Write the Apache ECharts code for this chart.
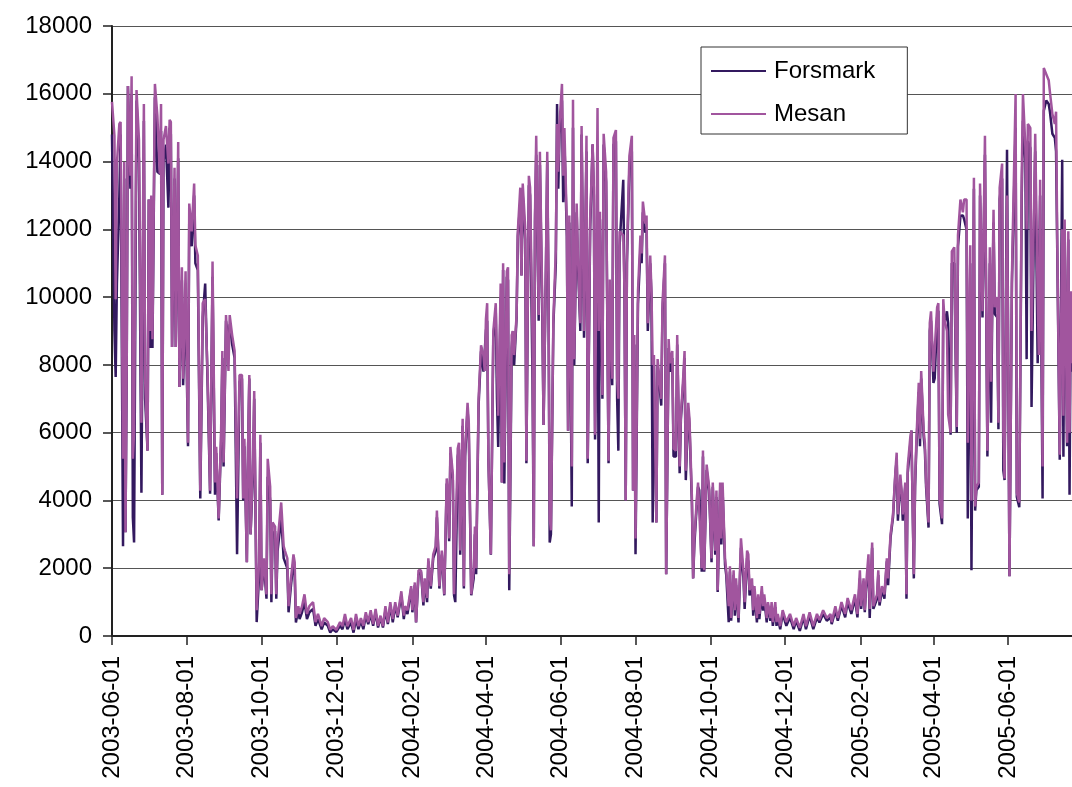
<!DOCTYPE html>
<html>
<head>
<meta charset="utf-8">
<script src="https://cdn.jsdelivr.net/npm/echarts@6/dist/echarts.min.js"></script>
<style>
  html, body { margin: 0; padding: 0; background: #fff; }
  #chart { width: 1072px; height: 787px; }
</style>
</head>
<body>
<div id="chart"></div>
<script>
// first day of the series, day offsets below count from here
const startDate = "2003-06-01";
const dayCount = 784;

const tickLabels = [
  "2003-06-01", "2003-08-01", "2003-10-01", "2003-12-01", "2004-02-01",
  "2004-04-01", "2004-06-01", "2004-08-01", "2004-10-01", "2004-12-01",
  "2005-02-01", "2005-04-01", "2005-06-01"
];

// day offsets of the read-off points
const sampleDays = [
  0,2,3,4,6,7,9,10,11,12,
  13,15,16,17,18,20,22,24,26,27,
  29,30,31,32,33,35,37,39,40,41,
  42,44,46,47,48,49,51,52,54,55,
  57,58,60,62,63,65,67,68,70,72,
  74,76,78,80,82,84,85,87,89,90,
  91,93,95,96,98,100,102,104,106,107,
  108,110,111,112,113,115,116,117,118,120,
  121,122,124,126,127,129,130,131,133,134,
  135,138,140,141,143,144,146,148,149,150,
  152,153,155,157,159,161,164,166,168,171,
  173,176,178,180,183,186,188,190,192,195,
  197,199,201,203,205,207,209,211,213,215,
  217,219,221,223,225,227,229,231,233,236,
  238,239,241,244,245,247,248,250,252,254,
  255,257,258,260,262,264,265,266,267,269,
  270,271,273,274,275,276,278,279,280,282,
  283,284,286,287,288,290,291,293,295,296,
  297,299,301,303,304,305,306,307,309,311,
  313,314,315,317,318,319,320,322,323,324,
  326,327,328,330,331,333,334,335,337,338,
  340,341,343,344,345,346,348,349,351,352,
  354,355,356,357,358,360,362,363,364,365,
  367,368,369,371,372,373,375,376,377,379,
  380,382,383,385,386,387,388,390,392,393,
  394,396,397,398,400,401,403,405,406,408,
  409,411,412,413,414,417,418,419,420,422,
  424,425,426,427,429,431,432,433,435,436,
  437,439,440,441,442,444,445,448,449,451,
  452,454,455,457,458,460,461,463,464,466,
  467,468,470,471,473,474,475,477,478,479,
  481,482,483,485,487,489,490,492,493,494,
  496,497,498,500,501,503,504,505,507,508,
  509,511,512,513,515,516,518,519,520,522,
  523,524,526,527,528,530,531,532,534,535,
  537,538,539,541,542,543,545,547,550,553,
  556,558,561,564,566,569,572,575,577,580,
  583,586,587,590,592,595,598,600,603,606,
  608,610,611,613,614,615,617,618,620,621,
  624,625,626,628,630,632,633,635,637,639,
  640,641,643,644,645,647,648,649,651,652,
  654,655,656,658,659,660,662,663,664,666,
  667,668,670,671,673,674,675,677,678,679,
  681,682,684,685,687,689,690,692,694,695,
  697,698,700,701,703,704,705,707,708,710,
  712,714,716,717,718,719,720,722,723,724,
  726,727,728,730,731,732,734,737,738,740,
  742,743,745,746,747,749,750,752,753,755,
  756,757,759,760,762,764,765,767,769,770,
  771,773,775,776,777,779,780,781,782,783
];

const forsmark = [
  14800,9000,7640,10400,13000,14800,2650,13500,3060,7800,
  16230,13200,16000,3500,2760,15800,14000,4230,15200,7000,
  5470,12880,8500,12000,8500,15900,13700,13640,14900,4170,
  14000,14500,12640,15000,14800,8530,13500,8530,14100,7350,
  10500,7400,10000,5600,12300,11500,13000,11000,10800,4060,
  9400,10400,7400,4200,10600,4170,5400,3410,5800,8200,
  5000,9300,8700,9200,8600,8200,2410,7500,7600,4000,
  5600,2180,5500,7600,3000,4800,7000,3800,410,1800,
  5700,1350,2100,1100,4700,4000,1000,3000,3100,1100,
  2500,3500,2300,2300,2000,700,1500,2200,1800,400,
  800,500,700,1000,500,700,800,300,500,200,
  400,300,100,200,120,300,200,500,200,400,
  100,500,200,450,200,600,350,650,300,700,
  250,550,250,750,350,900,400,900,550,1200,
  500,800,650,1400,700,1500,400,1800,1900,900,
  1600,1000,2200,1400,2300,2500,3500,2600,1400,2400,
  1900,1200,4500,4200,2800,5400,4600,1200,1000,5300,
  5500,2400,6200,1400,5300,6700,6000,1200,1700,3000,
  1820,6800,8400,7800,7800,9000,9300,5230,2400,8800,
  9600,7000,5580,10000,4530,10800,4500,10600,10500,1350,
  8500,9000,8000,9400,11800,12800,10640,13000,11700,5100,
  13300,13000,7500,2650,12200,14200,9300,13900,9300,6230,
  11000,14000,10200,2760,3000,9200,11000,15700,13200,14800,
  15800,12800,14600,11800,6060,12200,3820,15000,8000,12500,
  11000,9000,14800,8800,11500,14300,5100,12000,14500,13000,
  5800,12000,3350,12300,7000,14500,13400,5100,9000,7400,
  14500,14600,7000,5470,11500,13460,10000,4000,11000,13800,
  14300,4290,8600,2410,9800,11400,11000,12500,11900,12000,
  9000,11000,10000,3350,8000,3350,8000,6800,9600,11000,
  1820,8500,7800,8200,5300,5300,8600,4800,6400,7500,
  8200,4600,6700,6200,3900,1700,2700,3900,4400,4300,
  1900,5300,1900,4900,4300,2180,4400,2400,4100,1300,
  4300,2700,4300,2100,1800,410,1900,450,1800,600,
  1500,400,1500,2600,1700,800,2300,2200,1200,1500,
  600,1300,400,1100,500,1300,750,1100,400,900,
  450,850,300,850,300,550,200,650,300,550,
  200,450,150,550,200,600,200,550,400,650,
  450,550,350,750,450,900,550,1000,650,1100,
  550,1700,800,1600,700,1400,2000,530,2600,800,
  1100,1800,900,1350,1100,2200,1500,2900,3500,4800,
  5200,3400,4600,4200,3400,4400,1100,4800,5600,6060,
  1700,4400,5500,7200,5600,7600,5900,5500,4400,3200,
  9000,9300,7470,7600,9400,9600,3900,3300,9700,9200,
  9580,9230,5940,11000,11000,6000,11500,12400,12410,12300,
  12000,3470,11000,1940,13200,3700,4300,4400,13000,9400,
  14200,5300,11000,6290,9800,12200,9500,9410,6100,12900,
  13500,4880,4600,14350,8000,1760,10400,15000,4100,3800,
  13000,15200,14000,8170,14600,14400,6760,12200,14300,8050,
  8000,13000,4060,15500,15800,15700,15470,14820,14700,14300,
  11300,5200,14050,5290,12000,5600,11700,4170,10000,7800
];

const mesan = [
  15760,14760,9940,13940,15110,15170,5230,13990,3060,8170,
  16230,13580,16520,5230,6000,16110,14640,6290,15700,7590,
  5470,12880,9000,13000,8760,16290,15350,13640,15700,4170,
  14640,15050,13940,15230,15170,8530,13820,8530,14580,7350,
  10880,7590,10760,5700,12760,11940,13350,11530,11230,4290,
  9820,9940,7700,4290,11050,4530,5580,3470,6060,8410,
  5120,9470,7820,9470,8880,8410,4060,7700,7700,4060,
  5820,2180,5580,7700,3000,5120,7230,4060,760,2180,
  5940,1350,2290,1230,5230,4410,1230,3350,3230,1230,
  2760,3940,2650,2520,2290,880,1700,2410,2180,530,
  880,650,880,1230,650,880,1000,410,650,290,
  530,410,180,290,180,410,290,650,290,530,
  180,650,290,530,300,700,410,760,350,800,
  300,600,290,880,400,1000,500,1000,600,1320,
  600,880,760,1470,760,1580,410,1940,1940,1000,
  1700,1120,2290,1470,2410,2650,3700,2650,1470,2520,
  1940,1230,4650,4290,2880,5580,4760,1230,1200,5530,
  5700,2520,6410,1470,5470,6880,6290,1230,1940,3230,
  2000,7000,8580,8290,7820,9350,9820,5230,2410,9000,
  9820,8050,6500,10400,4530,11000,5120,10760,10880,1820,
  8880,9000,8290,9470,11940,13230,10640,13350,12050,5170,
  13580,13230,8760,2650,12410,14760,9470,14290,9700,6230,
  11170,14290,10400,3470,3120,9350,11410,15110,13700,15110,
  16290,13580,14990,12050,6060,12410,5000,15820,8170,12760,
  11230,9230,15050,9000,11820,14760,5230,12290,14520,13230,
  5940,15580,9000,12520,7110,14820,13700,5170,10520,7590,
  14700,14930,7590,7000,11940,11820,10170,4000,11230,14170,
  14760,4290,8880,2880,10170,11820,11290,12820,12170,12410,
  9230,11230,10170,8000,8290,3350,8170,7000,9820,11230,
  1820,8760,8050,8410,5530,5470,8880,5000,6530,7700,
  8410,4880,6880,6410,4060,1700,2880,4060,4530,4530,
  2000,5470,1940,5060,4410,2290,4530,2520,4290,1350,
  4530,2880,4530,2290,1940,880,2060,530,1940,760,
  1700,530,1700,2880,1940,1000,2520,2410,1350,1700,
  760,1470,530,1230,650,1470,880,1230,530,1000,
  530,1000,410,1000,410,650,290,760,410,650,
  290,530,240,650,290,700,290,650,470,760,
  530,650,410,880,530,1000,650,1120,760,1230,
  650,1940,880,1700,760,1470,2410,800,2760,880,
  1230,1940,1000,1470,1230,2290,1700,3000,3590,4880,
  5410,3590,4760,4290,3590,4530,1230,5000,5820,6060,
  1820,4530,5700,7470,5820,7820,6060,5700,4530,3350,
  9230,9580,7800,7820,9700,9820,4060,3470,9940,9350,
  9000,6530,6000,11350,11470,6170,11820,12880,12500,12880,
  12880,5700,11530,4000,13520,3820,4410,4530,13350,9580,
  14760,5470,11470,7500,10050,12580,9700,10000,6290,13230,
  13940,6000,4650,13000,8170,1760,10640,15990,4230,3940,
  13580,15990,14400,12000,15110,14990,9000,12640,14820,10000,
  8290,13460,5000,16760,16580,16400,16050,15400,15110,15470,
  11530,5350,12000,6500,12290,5700,11940,6000,10170,8050
];

function buildDates() {
  const dates = [];
  const d = new Date(startDate + "T00:00:00Z");
  for (let i = 0; i < dayCount; i++) {
    dates.push(d.toISOString().slice(0, 10));
    d.setUTCDate(d.getUTCDate() + 1);
  }
  return dates;
}

const dates = buildDates();
const isTickDay = (idx, value) => tickLabels.indexOf(value) !== -1;
const toPoints = (values) => values.map((v, i) => [sampleDays[i], v]);

const font = "'Liberation Sans', Arial, sans-serif";
const chart = echarts.init(document.getElementById("chart"));

chart.setOption({
  animation: false,
  backgroundColor: "#fff",
  textStyle: { fontFamily: font },
  grid: { left: 112, right: 0, top: 26, bottom: 151 },
  legend: {
    orient: "vertical",
    left: 701,
    top: 47,
    icon: "rect",
    itemWidth: 55,
    itemHeight: 2,
    itemGap: 19,
    padding: [12, 32, 8, 10],
    backgroundColor: "#fff",
    borderColor: "#333",
    borderWidth: 1,
    borderRadius: 0,
    selectedMode: false,
    textStyle: { fontSize: 24, color: "#000", fontFamily: font, padding: [0, 0, 0, 3] },
    data: ["Forsmark", "Mesan"],
  },
  xAxis: {
    type: "category",
    data: dates,
    boundaryGap: false,
    axisLine: { lineStyle: { color: "#222", width: 2 } },
    axisTick: { interval: isTickDay, length: 9, lineStyle: { color: "#222", width: 1.5 } },
    axisLabel: {
      interval: isTickDay,
      rotate: 90,
      margin: 20,
      fontSize: 24,
      color: "#000",
      fontFamily: font,
    },
    splitLine: { show: false },
  },
  yAxis: {
    type: "value",
    min: 0,
    max: 18000,
    interval: 2000,
    axisLine: { show: true, lineStyle: { color: "#222", width: 2 } },
    axisTick: { show: true, length: 9, lineStyle: { color: "#222", width: 1.5 } },
    axisLabel: {
      margin: 20,
      fontSize: 24,
      color: "#000",
      fontFamily: font,
      formatter: (v) => String(v),
    },
    splitLine: { lineStyle: { color: "#555", width: 1 } },
  },
  series: [
    {
      name: "Forsmark",
      type: "line",
      data: toPoints(forsmark),
      showSymbol: false,
      symbol: "none",
      color: "#33195f",
      lineStyle: { width: 2.5, color: "#33195f" },
    },
    {
      name: "Mesan",
      type: "line",
      data: toPoints(mesan),
      showSymbol: false,
      symbol: "none",
      color: "#a1559e",
      lineStyle: { width: 2.5, color: "#a1559e" },
    },
  ],
});
</script>
</body>
</html>
